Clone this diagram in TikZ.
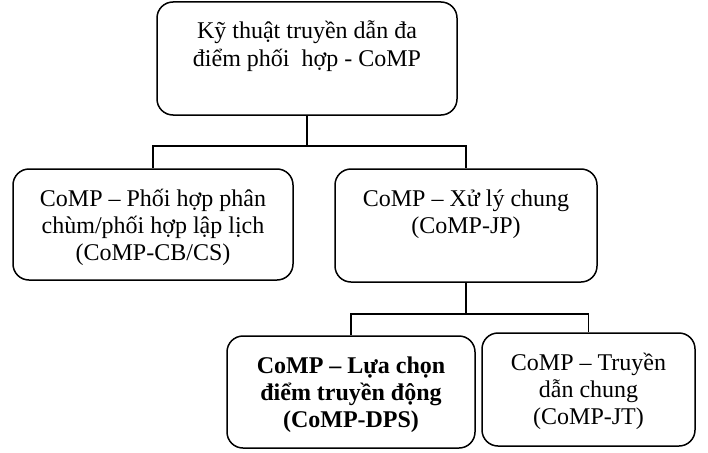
\documentclass[tikz,border=0pt]{standalone}
\usepackage{fontspec}
\setmainfont{Liberation Serif}
\newcommand\boxtxt[3]{\parbox[c][#2][t]{#1}{\centering\rule{0pt}{37pt}#3}}
\begin{document}
\begin{tikzpicture}[x=1pt,y=1pt,
        box/.style={draw,line width=1.5pt,rounded corners=16pt,inner sep=0pt,font=\fontsize{24}{27}\selectfont},
        link/.style={line width=1.5pt}]
        \useasboundingbox (0,0) rectangle (708,-452);
        \node[box] (top) at (307,-58.5) {\boxtxt{300pt}{113pt}{Kỹ thuật truyền dẫn đa\\điểm phối~ hợp - CoMP}};
        \node[box] (cbcs) at (153,-224.5) {\boxtxt{280pt}{111pt}{CoMP – Phối hợp phân\\chùm/phối hợp lập lịch\\(CoMP-CB/CS)}};
        \node[box] (jp) at (466,-225.5) {\boxtxt{262pt}{113pt}{CoMP – Xử lý chung\\(CoMP-JP)}};
        \node[box] (dps) at (351,-392) {\boxtxt{248pt}{112pt}{\bfseries CoMP – Lựa chọn\\điểm truyền động\\(CoMP-DPS)}};
        \node[box] (jt) at (588.5,-389.5) {\boxtxt{213pt}{113pt}{CoMP – Truyền\\dẫn chung\\(CoMP-JT)}};
        \foreach \n in {cbcs,jp} {
            \draw[link] (top.south) -- ++(0,-30) -| (\n.north);
        }
        \foreach \n in {dps,jt} {
            \draw[link] (jp.south) -- ++(0,-31) -| (\n.north);
        }
    \end{tikzpicture}
\end{document}
